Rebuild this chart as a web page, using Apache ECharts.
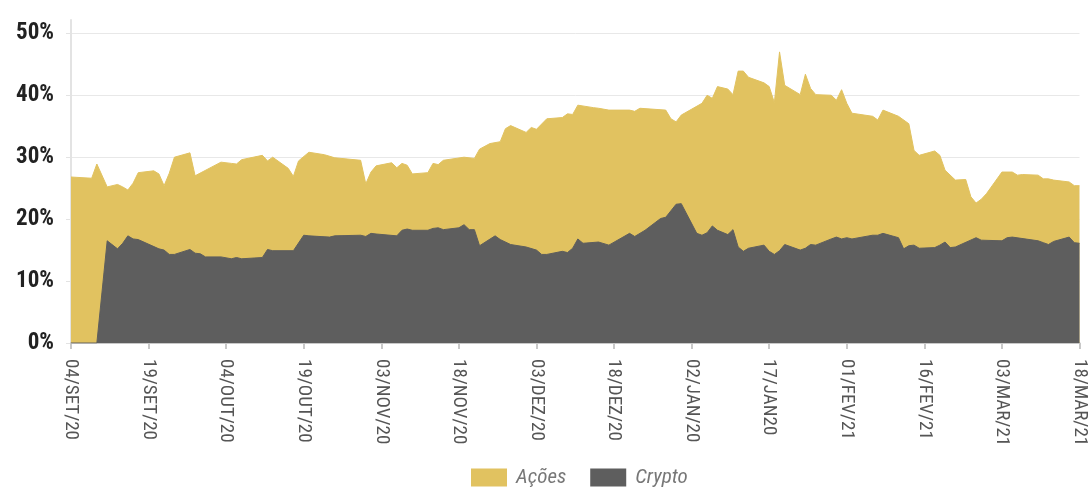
<!DOCTYPE html>
<html>
<head>
<meta charset="utf-8">
<script src="https://cdn.jsdelivr.net/npm/echarts@6/dist/echarts.min.js"></script>
<style>
html,body{margin:0;padding:0;background:#fff;}
#chart{width:1089px;height:487px;}
</style>
</head>
<body>
<div id="chart"></div>
<script>
// ---- data ----
const startDate = '2020-09-04';
const dayCount = 196;
const tickLabels = ['04/SET/20','19/SET/20','04/OUT/20','19/OUT/20','03/NOV/20','18/NOV/20','03/DEZ/20','18/DEZ/20','02/JAN/20','17/JAN20','01/FEV/21','16/FEV/21','03/MAR/21','18/MAR/21'];
const seriesNames = ['Ações', 'Crypto'];
// [day index, percent]
const acoes = [[0,26.8],[4,26.6],[5,28.9],[7,25.2],[9,25.6],[10,25.2],[11,24.7],[12,25.8],[13,27.5],[16,27.8],[17,27.3],[18,25.4],[19,27.4],[20,30.0],[23,30.7],[24,27.0],[29,29.2],[31,29.0],[32,28.9],[33,29.6],[37,30.3],[38,29.4],[39,30.0],[42,28.2],[43,26.9],[44,29.4],[46,30.8],[49,30.4],[51,29.9],[56,29.5],[57,25.7],[58,27.6],[59,28.6],[62,29.1],[63,28.3],[64,29.0],[65,28.7],[66,27.3],[69,27.5],[70,29.0],[71,28.8],[72,29.5],[76,30.0],[78,29.8],[79,31.3],[81,32.2],[83,32.5],[84,34.6],[85,35.1],[88,34.0],[89,34.8],[90,34.5],[92,36.2],[95,36.4],[96,37.0],[97,36.9],[98,38.4],[101,38.0],[102,37.9],[104,37.6],[108,37.6],[109,37.4],[110,37.9],[115,37.6],[116,36.2],[117,35.7],[118,36.8],[122,38.7],[123,40.0],[124,39.5],[125,41.4],[127,41.0],[128,40.1],[129,43.9],[130,43.9],[131,42.9],[134,42.0],[135,41.4],[136,38.8],[137,47.0],[138,41.6],[141,40.1],[142,43.4],[143,41.1],[144,40.1],[147,40.0],[148,39.2],[149,40.9],[150,38.7],[151,37.1],[155,36.6],[156,36.0],[157,37.6],[160,36.6],[162,35.4],[163,31.1],[164,30.3],[167,31.0],[168,30.3],[169,27.9],[171,26.3],[173,26.4],[174,23.6],[175,22.6],[176,23.2],[177,24.1],[180,27.6],[182,27.6],[183,27.1],[184,27.2],[187,27.1],[188,26.5],[189,26.5],[190,26.3],[193,26.0],[194,25.4],[195,25.4]];
const crypto = [[0,0],[5,0],[6.9,16.5],[9,15.2],[10,16.1],[11,17.3],[12,16.8],[13,16.7],[17,15.2],[18,15.0],[19,14.3],[20,14.3],[23,15.1],[24,14.5],[25,14.4],[26,13.9],[29,13.9],[31,13.6],[32,13.8],[33,13.6],[37,13.8],[38,15.1],[39,14.9],[43,14.9],[45,17.4],[46,17.3],[50,17.1],[51,17.3],[56,17.4],[57,17.2],[58,17.7],[59,17.6],[63,17.3],[64,18.2],[65,18.4],[66,18.2],[69,18.2],[70,18.5],[71,18.6],[72,18.3],[75,18.6],[76,19.1],[77,18.3],[78,18.3],[79,15.7],[82,17.3],[83,16.7],[85,15.9],[88,15.5],[90,15.0],[91,14.3],[92,14.3],[95,14.8],[96,14.6],[97,15.3],[98,16.8],[99,16.1],[102,16.3],[104,15.8],[108,17.7],[109,17.2],[111,18.2],[114,20.1],[115,20.3],[117,22.4],[118,22.5],[121,17.7],[122,17.4],[123,17.8],[124,18.9],[125,18.2],[127,17.5],[128,18.3],[129,15.5],[130,14.8],[131,15.3],[134,15.8],[135,14.8],[136,14.3],[137,14.9],[138,15.9],[141,15.0],[142,15.3],[143,15.9],[144,15.8],[147,16.8],[148,17.1],[149,16.8],[150,17.0],[151,16.8],[155,17.4],[156,17.4],[157,17.7],[160,17.0],[161,15.2],[162,15.7],[163,15.8],[164,15.3],[167,15.4],[168,15.8],[169,16.3],[170,15.4],[171,15.5],[175,17.0],[176,16.6],[180,16.5],[181,17.0],[182,17.1],[187,16.5],[188,16.2],[189,15.9],[190,16.4],[193,17.1],[194,16.2],[195,16.1]];

// ---- categories (dates) ----
const categories = [];
const d0 = new Date(startDate + 'T00:00:00Z');
for (let i = 0; i < dayCount; i++) {
  const d = new Date(d0.getTime() + i * 86400000);
  categories.push(d.toISOString().slice(0, 10));
}

const FONT = "'Liberation Sans Narrow','Roboto Condensed','DejaVu Sans Condensed','Liberation Sans',sans-serif";
const COLORS = ['#E1C260', '#5E5E5E'];

const chart = echarts.init(document.getElementById('chart'), null, {renderer: 'canvas'});
chart.setOption({
  animation: false,
  color: COLORS,
  grid: {left: 71, right: 2, top: 20, bottom: 144, containLabel: false},
  legend: {
    data: seriesNames,
    top: 467,
    left: 471,
    padding: 0,
    itemWidth: 36,
    itemHeight: 18,
    itemGap: 24,
    icon: 'rect',
    textStyle: {fontFamily: FONT, fontSize: 21, fontStyle: 'italic', color: '#777', padding: [0, 0, 0, 4]}
  },
  xAxis: {
    type: 'category',
    data: categories,
    boundaryGap: false,
    axisLine: {lineStyle: {color: '#c8c8c8', width: 2}},
    axisTick: {interval: 14, length: 6, lineStyle: {color: '#c8c8c8', width: 2}},
    axisLabel: {
      interval: 14,
      rotate: -90,
      margin: 16,
      fontFamily: FONT,
      fontSize: 19,
      color: '#555',
      formatter: function (v, i) { return tickLabels[Math.round(i / 15)]; }
    },
    splitLine: {show: false}
  },
  yAxis: {
    type: 'value',
    min: 0,
    max: 52.15,
    interval: 10,
    axisLine: {show: true, lineStyle: {color: '#e3e3e3', width: 2}},
    axisTick: {show: true, length: 5, lineStyle: {color: '#e3e3e3'}},
    axisLabel: {
      showMaxLabel: false,
      margin: 17,
      fontFamily: FONT,
      fontSize: 23,
      fontWeight: 'bold',
      color: '#222',
      formatter: function (v) { return (v % 10 === 0) ? v + '%' : ''; }
    },
    splitLine: {show: true, showMaxLine: false, lineStyle: {color: '#e8e8e8', width: 1}}
  },
  series: [
    {
      name: seriesNames[0],
      type: 'line',
      data: acoes,
      showSymbol: false,
      symbol: 'none',
      lineStyle: {width: 1, color: COLORS[0]},
      areaStyle: {color: COLORS[0], opacity: 1},
      z: 2
    },
    {
      name: seriesNames[1],
      type: 'line',
      data: crypto,
      showSymbol: false,
      symbol: 'none',
      lineStyle: {width: 1, color: COLORS[1]},
      areaStyle: {color: COLORS[1], opacity: 1},
      z: 3
    }
  ]
});
</script>
</body>
</html>
